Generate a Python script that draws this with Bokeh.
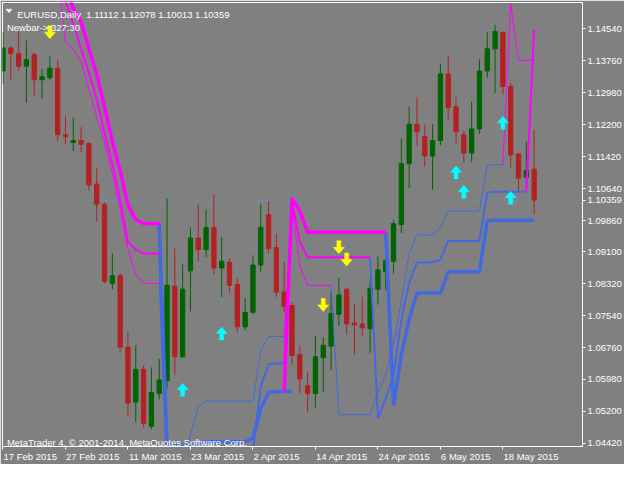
import numpy as np
from bokeh.plotting import figure
from bokeh.models import (ColumnDataSource, FixedTicker, Label, Span, Range1d,
                          PrintfTickFormatter, CustomJSTickFormatter)
from bokeh.embed import file_html
from bokeh.resources import INLINE

# ---------------- data (EURUSD daily) ----------------
opens = [1.13511, 1.14076, 1.13935, 1.13628, 1.13911, 1.13298, 1.13346, 1.13581, 1.11955, 1.11767,
         1.11814, 1.11743, 1.10753, 1.10258, 1.08326, 1.08514, 1.06770, 1.05427, 1.06228, 1.04838,
         1.05639, 1.05945, 1.08255, 1.06534, 1.08632, 1.09433, 1.09151, 1.09693, 1.08703, 1.08844,
         1.08302, 1.07265, 1.07619, 1.08773, 1.09999, 1.09198, 1.08114, 1.07784, 1.06582, 1.05827,
         1.05639, 1.06511, 1.06794, 1.07571, 1.08184, 1.07359, 1.07336, 1.07218, 1.08184, 1.08608,
         1.08868, 1.09763, 1.11248, 1.12214, 1.11908, 1.11437, 1.11814, 1.13440, 1.12639, 1.11955,
         1.11507, 1.12097, 1.13511, 1.14053, 1.14453, 1.13133, 1.11484, 1.10918, 1.11112]
highs = [1.14453, 1.14123, 1.14477, 1.14265, 1.13958, 1.13558, 1.13864, 1.13770, 1.12426, 1.12379,
         1.12144, 1.11767, 1.11130, 1.10305, 1.09056, 1.08561, 1.07147, 1.06817, 1.06322, 1.06275,
         1.06487, 1.10400, 1.09174, 1.08797, 1.09693, 1.10258, 1.10117, 1.10494, 1.09457, 1.08938,
         1.08467, 1.07972, 1.09009, 1.10258, 1.10329, 1.09538, 1.08844, 1.07861, 1.06817, 1.06174,
         1.07046, 1.07006, 1.08090, 1.08467, 1.08208, 1.07831, 1.07996, 1.08443, 1.08986, 1.09245,
         1.09881, 1.11861, 1.12639, 1.12874, 1.12214, 1.12214, 1.13676, 1.13888, 1.12874, 1.12049,
         1.12756, 1.13793, 1.14453, 1.14642, 1.14477, 1.13228, 1.11507, 1.11790, 1.12078]
lows = [1.13181, 1.13298, 1.13511, 1.12733, 1.12898, 1.12827, 1.13298, 1.11790, 1.11719, 1.11554,
        1.11531, 1.10588, 1.09834, 1.08326, 1.08184, 1.06629, 1.05073, 1.04932, 1.04790, 1.04767,
        1.05497, 1.05757, 1.06087, 1.06511, 1.07642, 1.08868, 1.08962, 1.08538, 1.07996, 1.08090,
        1.07124, 1.07171, 1.07571, 1.08608, 1.09056, 1.07996, 1.07612, 1.06339, 1.05646, 1.05175,
        1.05292, 1.05662, 1.06205, 1.07289, 1.07077, 1.06582, 1.07053, 1.06629, 1.07807, 1.08161,
        1.08561, 1.09558, 1.10659, 1.11696, 1.11177, 1.10612, 1.11696, 1.12332, 1.11743, 1.11272,
        1.11295, 1.11979, 1.13346, 1.12969, 1.12945, 1.11154, 1.10588, 1.10753, 1.10013]
closes = [1.14076, 1.13935, 1.13628, 1.13793, 1.13298, 1.13369, 1.13581, 1.11955, 1.11908, 1.11814,
          1.11719, 1.10730, 1.10258, 1.08373, 1.08514, 1.06770, 1.05403, 1.06228, 1.04908, 1.05662,
          1.05969, 1.08278, 1.06534, 1.08184, 1.09433, 1.09151, 1.09693, 1.08703, 1.08868, 1.08278,
          1.07265, 1.07619, 1.08773, 1.09693, 1.09174, 1.08114, 1.07760, 1.06565, 1.05992, 1.05639,
          1.06534, 1.06817, 1.07595, 1.08043, 1.07336, 1.07312, 1.07241, 1.08208, 1.08656, 1.08891,
          1.09787, 1.11248, 1.12214, 1.12026, 1.11437, 1.11814, 1.13440, 1.12615, 1.12026, 1.11507,
          1.12097, 1.13511, 1.14053, 1.14477, 1.13133, 1.11460, 1.10895, 1.11083, 1.10359]

tick_bars = [0, 8, 16, 24, 32, 40, 48, 56, 64]
tick_labels = ["17 Feb 2015", "27 Feb 2015", "11 Mar 2015", "23 Mar 2015", "2 Apr 2015",
               "14 Apr 2015", "24 Apr 2015", "6 May 2015", "18 May 2015"]
price_ticks = [1.04420, 1.05200, 1.05980, 1.06760, 1.07540, 1.08320, 1.09100, 1.09860,
               1.10640, 1.11420, 1.12200, 1.12980, 1.13760, 1.14540]

N = None
# down-trend (magenta) channel lines
down_thick = [N]*8 + [1.15585, 1.15042,
              1.14712, 1.14053, 1.13440, 1.12638, 1.11790, 1.11083, 1.10235, 1.09881, 1.09787, 1.09787,
              1.09787] + [N]*15 + [1.05686, 1.10400, 1.10093, 1.09575] + [1.09575]*10 + [N]*19
down_mid = [N]*8 + [1.15231, 1.14665,
            1.14053, 1.13463, 1.12827, 1.12002, 1.11248, 1.10352, 1.09339, 1.09150, 1.09056, 1.09056,
            1.09056] + [N]*15 + [1.06369, 1.10352, 1.09339, 1.08962] + [1.08962]*8 + [N]*19 + [1.10565, 1.14524]
down_thin = [N]*7 + [1.15938, 1.14194, 1.14053,
             1.13746, 1.13063, 1.12403, 1.11767, 1.11012, 1.10117, 1.09150, 1.08538, 1.08326, 1.08326,
             1.08326] + [N]*15 + [1.07029, 1.10235, 1.08750, 1.08278] + [1.08278]*3 + [N]*21 + \
            [1.11224, 1.15160, 1.13770, 1.13770, 1.13770]
# up-trend (blue) channel lines
up_thick = [N]*20 + [1.09787, 1.04366, 1.04366, 1.04366, 1.04366, 1.04390] + [1.04460]*6 + \
           [1.04555, 1.05262, 1.05662, 1.05686, 1.05686, 1.05686] + [N]*11 + \
           [1.09575, 1.05332, 1.06582, 1.07454] + [1.08090]*4 + [1.08608]*5 + [1.09857] + [1.09869]*6
up_mid = [N]*20 + [1.09056] + [1.04154]*11 + [1.04248, 1.05804, 1.06346, 1.06369, 1.06369] + [N]*10 + \
         [1.08962, 1.05026, 1.05521, 1.06063, 1.07454, 1.08349, 1.08832, 1.08844, 1.08844, 1.08903] + \
         [1.09363]*5 + [1.10541] + [1.10565]*5 + [N]
up_thin = [N]*20 + [1.08326, 1.03447, 1.03565, 1.03753, 1.04625, 1.05309] + [1.05450]*7 + \
          [1.06699, 1.07029, 1.07029, 1.07029] + [N]*5 + [1.08278] + [1.05120]*5 + \
          [1.05686, 1.06087, 1.06841, 1.07901, 1.09056, 1.09504, 1.09504, 1.09504, 1.09693] + \
          [1.10093]*5 + [1.11201, 1.11224, 1.11224] + [N]*4

# signal arrows
buy_bars = [23, 28, 58, 59, 64, 65]
buy_prices = [1.05726, 1.07100, 1.11036, 1.10565, 1.12245, 1.10416]
sell_bars = [6, 41, 43, 44]
sell_prices = [1.14460, 1.07800, 1.09205, 1.08908]

# ---------------- figure ----------------
X0, X1 = -0.0625, 74.19
Y0, Y1 = 1.04343, 1.15184
FW, FH = 578, 444          # approximate frame size in px
BX = (X1 - X0) / FW
BY = (Y1 - Y0) / FH
BG = "#808080"
FONT = "Liberation Sans"
FSZ = 9.5
FS = "%.1fpx" % FSZ


def rx(px):  # reference-pixel to bar units
    return X0 + (px - 3.0) * (X1 - X0) / 594.0


def ry(py):  # reference-pixel to price units
    return Y1 - (py - 2.0) * (Y1 - Y0) / 460.0


# approximate advance widths (Arial metrics, 1/1000 em) to left-align date labels
ADV = {" ": 278, "A": 667, "F": 611, "M": 833, "a": 556, "b": 556, "e": 556, "p": 556,
       "r": 333, "y": 500}


def text_px(s):
    return sum(ADV.get(ch, 556) for ch in s) * FSZ / 1000.0


label_pos = [b + (text_px(t) / 2 + 0.5) * BX for b, t in zip(tick_bars, tick_labels)]

p = figure(width=624, height=464, x_range=Range1d(X0, X1), y_range=Range1d(Y0, Y1),
           output_backend="svg", toolbar_location=None, y_axis_location="right",
           min_border_left=2, min_border_top=2, min_border_right=0, min_border_bottom=0,
           background_fill_color=BG, border_fill_color=BG)
p.grid.visible = False
p.outline_line_color = "white"
p.outline_line_width = 1

for ax in (p.xaxis, p.yaxis):
    ax.axis_line_color = "white"
    ax.major_label_text_color = "white"
    ax.major_label_text_font = FONT
    ax.major_label_text_font_size = FS
    ax.axis_label = None
    ax.axis_label_standoff = 0
    ax.axis_label_text_font_size = "0px"

p.xaxis.ticker = FixedTicker(ticks=label_pos, minor_ticks=tick_bars)
p.xaxis.formatter = CustomJSTickFormatter(
    args=dict(pos=label_pos, labels=tick_labels),
    code="""
let k = 0;
for (let i = 0; i < pos.length; i++) {
  if (Math.abs(pos[i] - tick) < Math.abs(pos[k] - tick)) k = i;
}
return labels[k];
""")
p.xaxis.major_tick_line_color = None
p.xaxis.major_tick_in = 0
p.xaxis.major_tick_out = 3
p.xaxis.minor_tick_line_color = "white"
p.xaxis.minor_tick_in = 0
p.xaxis.minor_tick_out = 3
p.xaxis.major_label_standoff = 1

# price scale: regular levels plus the current bid price
p.yaxis.ticker = FixedTicker(ticks=price_ticks + [closes[-1]])
p.yaxis.formatter = PrintfTickFormatter(format="%.5f")
p.yaxis.major_tick_line_color = "white"
p.yaxis.minor_tick_line_color = None
p.yaxis.major_tick_in = 0
p.yaxis.major_tick_out = 3
p.yaxis.major_label_standoff = 2

# bid line
p.add_layout(Span(location=closes[-1], dimension="width", line_color="#7A8AA0",
                  line_width=1, level="underlay"))

# candles
idx = list(range(len(opens)))
bull = [c >= o for o, c in zip(opens, closes)]
src = ColumnDataSource(dict(
    x=idx, h=highs, l=lows,
    top=[max(o, c) for o, c in zip(opens, closes)],
    bot=[min(o, c) for o, c in zip(opens, closes)],
    col=["#006400" if b else "#B22222" for b in bull]))
p.segment(x0="x", y0="h", x1="x", y1="l", line_color="col", line_width=1, source=src)
p.vbar(x="x", top="top", bottom="bot", width=0.55, fill_color="col", line_color="col",
       line_width=1, source=src)

# channel lines
MAG, BLUE = "#FF00FF", "#4169E1"
for vals, col, w in [(up_thin, BLUE, 1), (up_mid, BLUE, 2), (up_thick, BLUE, 3.5),
                     (down_thin, MAG, 1), (down_mid, MAG, 2), (down_thick, MAG, 3.5)]:
    p.line(idx, np.array(vals, dtype=float), line_color=col, line_width=w)

# arrows
shape = [(-2, -6.5), (2, -6.5), (2, 0), (5.5, 0), (0, 6.5), (-5.5, 0), (-2, 0)]  # px, y down


def arrow_polys(bars, prices, sign):
    xs = [[b + dx * BX for dx, dy in shape] for b in bars]
    ys = [[pr - sign * dy * BY for dx, dy in shape] for pr in prices]
    return xs, ys


sx, sy = arrow_polys(sell_bars, sell_prices, 1)
p.patches(sx, sy, fill_color="#FFFF00", line_color="#FFFF00", line_width=0.5)
bx, by = arrow_polys(buy_bars, buy_prices, -1)
p.patches(bx, by, fill_color="#00FFFF", line_color="#00FFFF", line_width=0.5)

# header and footer texts
tri = [(-3, -1.7), (3, -1.7), (0, 1.8)]
p.patch([rx(9.7) + dx * BX for dx, dy in tri], [ry(10.7) - dy * BY for dx, dy in tri],
        fill_color="white", line_color="white", line_width=0.5)
header = "EURUSD,Daily\u00a0 %.5f %.5f %.5f %.5f" % (opens[-1], highs[-1], lows[-1], closes[-1])
for txt, px, py in [(header, 18, 14.5), ("Newbar-> 327:30", 7.5, 27.5),
                    ("MetaTrader 4, \u00a9 2001-2014, MetaQuotes Software Corp.", 7.5, 458)]:
    p.add_layout(Label(x=rx(px), y=ry(py), text=txt, text_color="white", text_font=FONT,
                       text_font_size=FS, text_baseline="alphabetic"))

open("out.html", "w").write(file_html(p, INLINE))
